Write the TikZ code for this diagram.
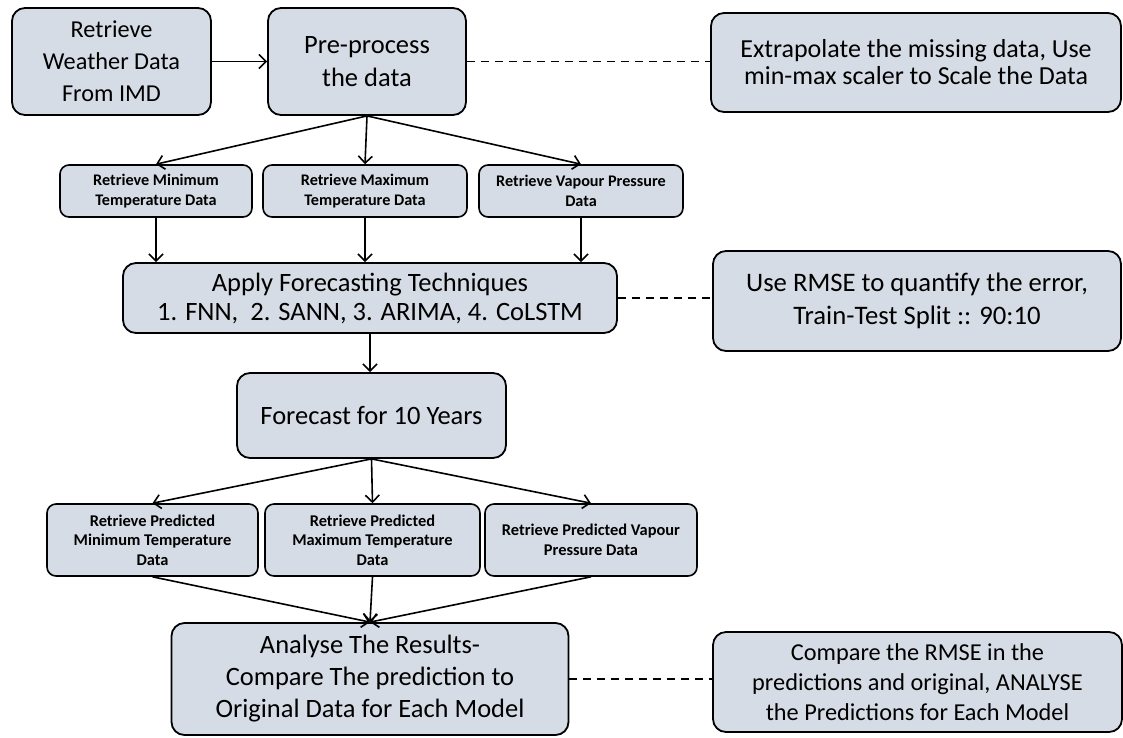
\documentclass[tikz,border=0pt]{standalone}
\usepackage{fontspec}
\setmainfont{Carlito}
\usetikzlibrary{arrows.meta}
\definecolor{boxfill}{HTML}{D6DCE5}
\tikzset{
  bigbox/.style={draw=black, line width=1.8pt, fill=boxfill, rounded corners=13pt,
    inner sep=0pt, align=center, font=\fontsize{26.5}{32}\selectfont},
  smallbox/.style={draw=black, line width=1.6pt, fill=boxfill, rounded corners=9pt,
    inner sep=0pt, align=center, font=\fontsize{16.2}{20}\selectfont\bfseries},
  arr/.style={line width=1.6pt, -{Straight Barb[length=7pt,width=14pt,line width=1.6pt]}},
  dashlink/.style={line width=1.5pt, dash pattern=on 8pt off 6pt},
}
\begin{document}
\begin{tikzpicture}[x=1pt,y=1pt]
\useasboundingbox (0,0) rectangle (1123,-737);
% top row
\node[bigbox, minimum width=199pt, minimum height=107pt, font=\fontsize{24.3}{32}\selectfont] (b1) at (111.5,-61.5) {Retrieve\\Weather Data\\From IMD};
\node[bigbox, minimum width=198pt, minimum height=107pt, font=\fontsize{26.5}{33}\selectfont] (pre) at (367,-61.5) {Pre-process\\the data};
\node[bigbox, minimum width=410pt, minimum height=99pt, font=\fontsize{26}{27}\selectfont] (ext) at (916,-62.5) {Extrapolate the missing data, Use\\min-max scaler to Scale the Data};
% first small row
\node[smallbox, minimum width=192pt, minimum height=52pt] (r1a) at (156,-191) {Retrieve Minimum\\Temperature Data};
\node[smallbox, minimum width=204pt, minimum height=52pt] (r1b) at (365,-191) {Retrieve Maximum\\Temperature Data};
\node[smallbox, minimum width=204pt, minimum height=52pt] (r1c) at (581,-191) {Retrieve Vapour Pressure\\Data};
% apply
\node[bigbox, minimum width=494pt, minimum height=70pt, font=\fontsize{26.5}{29}\selectfont] (apply) at (370,-298) {Apply Forecasting Techniques\\1. FNN,\ \ 2. SANN, 3. ARIMA, 4. CoLSTM};
\node[bigbox, minimum width=408pt, minimum height=100pt, font=\fontsize{26.7}{33}\selectfont] (rmse) at (917,-301) {Use RMSE to quantify the error,\\Train-Test Split :: 90:10};
% forecast
\node[bigbox, minimum width=269pt, minimum height=85pt] (fc) at (371.5,-415.5) {Forecast for 10 Years};
% second small row
\node[smallbox, minimum width=211pt, minimum height=72pt, font=\fontsize{16.4}{19.5}\selectfont\bfseries] (r2a) at (152.5,-540) {Retrieve Predicted\\Minimum Temperature\\Data};
\node[smallbox, minimum width=215pt, minimum height=72pt, font=\fontsize{16.4}{19.5}\selectfont\bfseries] (r2b) at (372.5,-540) {Retrieve Predicted\\Maximum Temperature\\Data};
\node[smallbox, minimum width=212pt, minimum height=72pt, font=\fontsize{16.4}{19.5}\selectfont\bfseries] (r2c) at (591,-540) {Retrieve Predicted Vapour\\Pressure Data};
% analyse
\node[bigbox, minimum width=397pt, minimum height=112pt] (ana) at (370,-679) {Analyse The Results-\\Compare The prediction to\\Original Data for Each Model};
\node[bigbox, minimum width=409pt, minimum height=100pt, font=\fontsize{24.3}{30}\selectfont] (cmp) at (917.5,-682) {Compare the RMSE in the\\predictions and original, ANALYSE\\the Predictions for Each Model};
% connectors
\draw[arr] (b1) -- (pre);
\draw[dashlink] (pre.east) -- (pre.east -| ext.west);
\draw[arr] (pre.south) -- (r1a.north);
\draw[arr] (pre.south) -- (r1b.north);
\draw[arr] (pre.south) -- (r1c.north);
\draw[arr] (r1a.south) -- (r1a.south |- apply.north);
\draw[arr] (r1b.south) -- (r1b.south |- apply.north);
\draw[arr] (r1c.south) -- (r1c.south |- apply.north);
\draw[dashlink] (apply.east) -- (apply.east -| rmse.west);
\draw[arr] (apply.south) -- (apply.south |- fc.north);
\draw[arr] (fc.south) -- (r2a.north);
\draw[arr] (fc.south) -- (r2b.north);
\draw[arr] (fc.south) -- (r2c.north);
\draw[arr] (r2a.south) -- (ana.north);
\draw[arr] (r2b.south) -- (ana.north);
\draw[arr] (r2c.south) -- (ana.north);
\draw[dashlink] (ana.east) -- (ana.east -| cmp.west);
\end{tikzpicture}
\end{document}
